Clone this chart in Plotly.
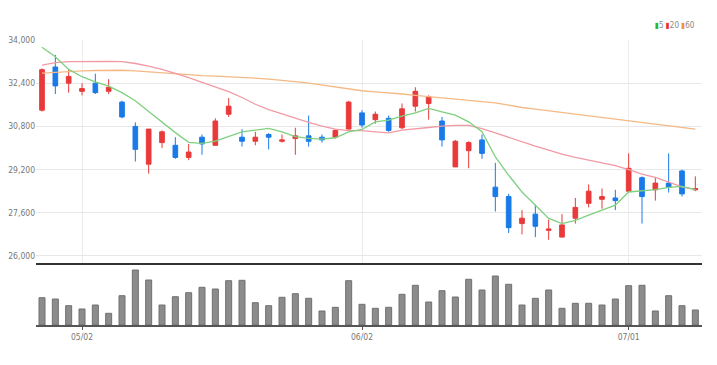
import plotly.graph_objects as go

dates = ["2022-04-27", "2022-04-28", "2022-04-29", "2022-05-02", "2022-05-03", "2022-05-04",
         "2022-05-06", "2022-05-09", "2022-05-10", "2022-05-11", "2022-05-12", "2022-05-13",
         "2022-05-16", "2022-05-17", "2022-05-18", "2022-05-19", "2022-05-20", "2022-05-23",
         "2022-05-24", "2022-05-25", "2022-05-26", "2022-05-27", "2022-05-30", "2022-05-31",
         "2022-06-02", "2022-06-03", "2022-06-07", "2022-06-08", "2022-06-09", "2022-06-10",
         "2022-06-13", "2022-06-14", "2022-06-15", "2022-06-16", "2022-06-17", "2022-06-20",
         "2022-06-21", "2022-06-22", "2022-06-23", "2022-06-24", "2022-06-27", "2022-06-28",
         "2022-06-29", "2022-06-30", "2022-07-01", "2022-07-04", "2022-07-05", "2022-07-06",
         "2022-07-07", "2022-07-08"]

open_ = [31400, 33000, 32400, 32100, 32400, 32100, 31700, 30800, 29400, 30200,
         30100, 29650, 30400, 30100, 31250, 30400, 30250, 30500, 30250, 30350,
         30450, 30400, 30400, 30700, 31300, 31050, 31100, 30750, 31550, 31650,
         31000, 29300, 29900, 30300, 28550, 28200, 27200, 27550, 26950, 26700,
         27400, 27950, 28100, 28150, 28400, 28900, 28450, 28700, 29150, 28450]
high = [32950, 33450, 32900, 32400, 32750, 32550, 31750, 30950, 30700, 30650,
        30400, 30150, 30500, 31100, 31850, 30700, 30600, 30550, 30500, 30750,
        31200, 30500, 30700, 31750, 31400, 31350, 31200, 31650, 32250, 31950,
        31150, 30300, 30250, 30500, 29450, 28300, 27700, 27900, 27350, 27550,
        28150, 28650, 28500, 28450, 29800, 28950, 28900, 29800, 29200, 28950]
low = [31350, 32000, 32050, 31950, 32000, 32000, 31100, 29500, 29050, 30000,
       29600, 29550, 29750, 30100, 31150, 30050, 30100, 29950, 30200, 29750,
       30050, 30200, 30350, 30700, 30750, 30900, 30600, 30700, 31350, 31050,
       30050, 29300, 29250, 29600, 27650, 26850, 26800, 26700, 26600, 26700,
       27200, 27800, 27750, 27700, 28400, 27200, 28050, 28350, 28200, 28400]
close = [32900, 32300, 32650, 32200, 32050, 32250, 31150, 29950, 30700, 30600,
         29650, 29850, 30150, 31000, 31550, 30250, 30400, 30400, 30300, 30450,
         30250, 30300, 30650, 31700, 30850, 31250, 30650, 31450, 32100, 31900,
         30300, 30250, 30200, 29800, 28200, 27050, 27400, 27100, 27000, 27150,
         27800, 28400, 28200, 28050, 29250, 28200, 28700, 28550, 28300, 28500]

ma5 = [33730, 33380, 32910, 32640, 32450, 32290, 32050, 31750, 31350, 30950,
       30570, 30210, 30170, 30255, 30420, 30600, 30665, 30725, 30600, 30420,
       30355, 30330, 30380, 30600, 30690, 30970, 31030, 31180, 31300, 31470,
       31340, 31220, 30970, 30600, 29670, 28990, 28370, 27880, 27390, 27200,
       27320, 27510, 27690, 27880, 28370, 28410, 28460, 28540, 28580, 28460]
ma20 = [33070, 33160, 33200, 33210, 33210, 33210, 33200, 33130, 33030, 32910,
        32760, 32610, 32430, 32270, 32090, 31870, 31620, 31420, 31260, 31100,
        30950, 30810, 30700, 30640, 30640, 30600, 30560, 30660, 30720, 30760,
        30810, 30840, 30840, 30720, 30560, 30390, 30230, 30070, 29920, 29770,
        29650, 29550, 29450, 29350, 29200, 29030, 28910, 28740, 28560, 28460]
ma60 = [32770, 32800, 32840, 32860, 32870, 32880, 32880, 32860, 32820, 32780,
        32740, 32700, 32680, 32660, 32640, 32610, 32590, 32550, 32510, 32460,
        32400, 32330, 32250, 32170, 32120, 32080, 32050, 32000, 31950, 31900,
        31860, 31820, 31770, 31720, 31670, 31590, 31500, 31440, 31380, 31320,
        31260, 31190, 31130, 31070, 31010, 30950, 30880, 30820, 30760, 30700]

volume = [273000, 260000, 193000, 160000, 200000, 117000, 293000, 550000, 450000, 200000,
          283000, 323000, 377000, 360000, 443000, 447000, 223000, 193000, 277000, 313000,
          267000, 140000, 177000, 443000, 207000, 167000, 177000, 307000, 397000, 230000,
          343000, 280000, 457000, 350000, 490000, 407000, 200000, 267000, 350000, 167000,
          217000, 217000, 200000, 260000, 393000, 397000, 140000, 293000, 193000, 150000]

price_ticks = [26000, 27600, 29200, 30800, 32400, 34000]
price_tick_text = ["26,000", "27,600", "29,200", "30,800", "32,400", "34,000"]
date_ticks = ["2022-05-02", "2022-06-02", "2022-07-01"]
date_tick_text = ["05/02", "06/02", "07/01"]

UP = "#e83a3a"
DOWN = "#1a7ae8"
FONT = "Liberation Sans Narrow, DejaVu Sans Condensed, Liberation Sans, sans-serif"

fig = go.Figure()
fig.add_trace(go.Candlestick(
    x=dates, open=open_, high=high, low=low, close=close,
    increasing=dict(line=dict(color=UP, width=1), fillcolor=UP),
    decreasing=dict(line=dict(color=DOWN, width=1), fillcolor=DOWN),
    whiskerwidth=0, xaxis="x", yaxis="y", showlegend=False))
fig.add_trace(go.Scatter(x=dates, y=ma60, mode="lines", line=dict(color="#f5b985", width=1.3),
                         xaxis="x", yaxis="y", showlegend=False))
fig.add_trace(go.Scatter(x=dates, y=ma20, mode="lines", line=dict(color="#f29aa4", width=1.3),
                         xaxis="x", yaxis="y", showlegend=False))
fig.add_trace(go.Scatter(x=dates, y=ma5, mode="lines", line=dict(color="#7fd07f", width=1.3),
                         xaxis="x", yaxis="y", showlegend=False))
fig.add_trace(go.Bar(x=dates, y=volume, marker=dict(color="#8c8c8c", line=dict(color="#707070", width=1)),
                     width=0.45, xaxis="x2", yaxis="y2", showlegend=False))

xr = [-0.45, 49.5]
fig.update_layout(
    width=709, height=357,
    margin=dict(l=28, r=15, t=32, b=40, autoexpand=False),
    paper_bgcolor="white", plot_bgcolor="white",
    boxgap=0.5,
    font=dict(family=FONT, size=8.5, color="#777"),
    xaxis=dict(type="category", range=xr, domain=[0, 1], anchor="y", automargin=False,
               tickvals=date_ticks, ticktext=date_tick_text, showticklabels=False,
               showgrid=True, gridcolor="#ececec", gridwidth=1,
               showline=True, linecolor="#333", linewidth=2, ticks="",
               rangeslider=dict(visible=False), zeroline=False),
    yaxis=dict(domain=[0.2175, 1], range=[25740, 34000], anchor="x", automargin=False,
               tickvals=price_ticks, ticktext=price_tick_text,
               showgrid=True, gridcolor="#e8e8e8", gridwidth=1, zeroline=False,
               showline=False, ticks="", tickfont=dict(size=8.5, color="#777")),
    xaxis2=dict(type="category", range=xr, domain=[0, 1], anchor="y2", automargin=False,
                tickvals=date_ticks, ticktext=date_tick_text,
                showgrid=False, showline=True, linecolor="#555", linewidth=2,
                ticks="outside", ticklen=3, tickcolor="#555", tickwidth=1,
                tickfont=dict(size=8.5, color="#777")),
    yaxis2=dict(domain=[0, 0.2105], range=[0, 600000], anchor="x2", automargin=False,
                showgrid=False, showticklabels=False, zeroline=False, showline=False),
    annotations=[dict(
        xref="paper", yref="paper", x=0.9925, y=1.0526, xanchor="right", yanchor="middle",
        showarrow=False, font=dict(size=8, color="#888", family=FONT),
        text='<span style="color:#2db52d">▮</span>5 <span style="color:#e83030">▮</span>20 '
             '<span style="color:#f0922e">▮</span>60')],
)

fig.write_html("out.html")
